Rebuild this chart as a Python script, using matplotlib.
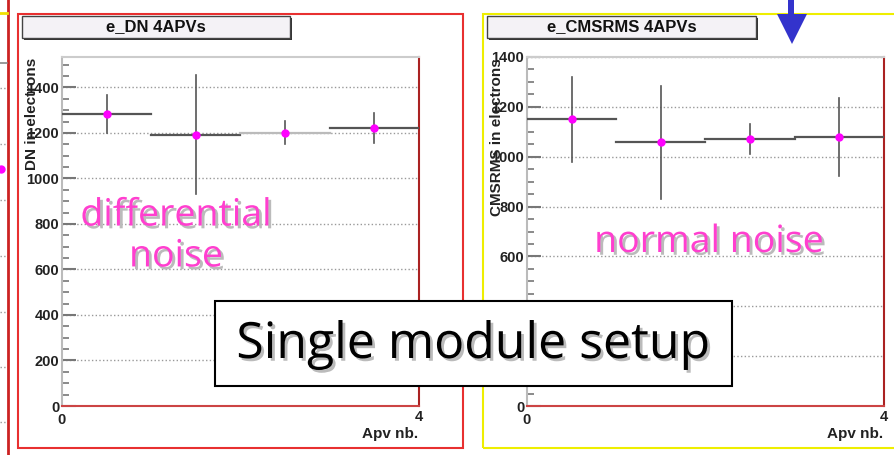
import numpy as np
import matplotlib
matplotlib.use('Agg')
from matplotlib import pyplot as plt
from matplotlib.patches import Rectangle, Polygon
from matplotlib.lines import Line2D
import matplotlib.patheffects as pe

# data
apv = [0.5, 1.5, 2.5, 3.5]
dn_vals = [1283, 1193, 1201, 1222]
dn_err = [82, 262, 51, 66]
cms_vals = [1150, 1058, 1071, 1080]
cms_err = [170, 227, 60, 157]
y_ticks = [0, 200, 400, 600, 800, 1000, 1200, 1400]

W, H = 895, 455
fig = plt.figure(figsize=(W / 100, H / 100), dpi=100)


def fx(px):
    return px / W


def fy(py):
    return 1 - py / H


def frame(x0, y0, x1, y1, **kw):
    r = Rectangle((fx(x0), fy(y1)), fx(x1) - fx(x0), fy(y0) - fy(y1),
                  transform=fig.transFigure, **kw)
    fig.patches.append(r)
    return r


def fline(xs, ys, **kw):
    fig.lines.append(Line2D([fx(x) for x in xs], [fy(y) for y in ys],
                            transform=fig.transFigure, **kw))


bold = dict(family='Liberation Sans', weight='bold')


def panel(x0, x1, ymax, vals, errs, title, ylabel, tbox, ylab_x, light_bin=None):
    ax = fig.add_axes([fx(x0), fy(406), fx(x1) - fx(x0), fy(57) - fy(406)])
    ax.set_xlim(0, 4)
    ax.set_ylim(0, ymax)
    for i, (c, v, e) in enumerate(zip(apv, vals, errs)):
        hcol = '#bbbbbb' if i == light_bin else '#555555'
        ax.plot([c - 0.5, c + 0.5], [v, v], color=hcol, lw=1.6, zorder=3)
        ax.plot([c, c], [v - e, v + e], color='#555555', lw=1.2, zorder=3)
    ax.plot(apv, vals, 'o', color='#ff00ff', ms=5, zorder=4)
    ax.set_yticks(y_ticks)
    ax.set_yticks(np.arange(0, ymax, 50), minor=True)
    ax.set_yticklabels([str(t) for t in y_ticks], fontsize=10.5, color='#222222', **bold)
    ax.tick_params(axis='y', which='major', direction='in', length=10, width=1.5,
                   color='#777777', pad=2)
    ax.tick_params(axis='y', which='minor', direction='in', length=5, width=1.2,
                   color='#777777')
    ax.set_xticks([])
    ax.grid(axis='y', which='major', ls=':', color='#999999', lw=1)
    ax.spines['left'].set_color('#bbbbbb')
    ax.spines['top'].set_color('#cccccc')
    ax.spines['right'].set_color('#aa2222')
    ax.spines['bottom'].set_color('#cc4444')
    for s in ax.spines.values():
        s.set_linewidth(1.5)
    fig.text(fx(x0), fy(420), '0', ha='center', va='center', fontsize=10.5, color='#222222', **bold)
    fig.text(fx(x1), fy(417), '4', ha='center', va='center', fontsize=10.5, color='#222222', **bold)
    fig.text(fx(x1 - 1), fy(434), 'Apv nb.', ha='right', va='center', fontsize=11,
             color='#222222', **bold)
    fig.text(fx(ylab_x), fy(58), ylabel, rotation=90, ha='center', va='top',
             fontsize=11, color='#222222', **bold)
    bx0, bx1 = tbox
    frame(bx0 + 2, 18, bx1 + 2, 40, facecolor='#333333', edgecolor='none', zorder=5)
    frame(bx0, 16, bx1, 38, facecolor='#f4f2f6', edgecolor='#444444', lw=1, zorder=6)
    fig.text(fx((bx0 + bx1) / 2), fy(27), title, ha='center', va='center',
             fontsize=12, color='#111111', zorder=7, **bold)
    return ax


# far left remnants of a previous pad
fline([8, 8], [0, 455], color='#cc2222', lw=2)
fline([0, 7], [13, 13], color='#f0e000', lw=2)
fline([0, 7], [63, 63], color='#888888', lw=1.2)
for gy in [88, 144, 200, 256, 312, 367, 422]:
    fline([0, 6], [gy, gy], color='#999999', lw=1, ls=':')
fig.lines.append(Line2D([0.001], [fy(169)], marker='o', color='#ff00ff', ms=5,
                        transform=fig.transFigure))

# pad frames
frame(18, 14, 463, 448, facecolor='none', edgecolor='#e83030', lw=1.5)
frame(483, 14, 905, 448, facecolor='none', edgecolor='#eeee00', lw=1.5)

ax1 = panel(62, 419, 1534, dn_vals, dn_err, 'e_DN 4APVs', 'DN in electrons',
            (22, 290), 32, light_bin=2)
ax2 = panel(527, 884, 1386, cms_vals, cms_err, 'e_CMSRMS 4APVs', 'CMSRMS in electrons',
            (487, 756), 497)

shadow = [pe.withSimplePatchShadow(offset=(2, -2), shadow_rgbFace='#bbbbbb', alpha=1)]
fig.text(fx(176), fy(236), 'differential\nnoise', ha='center', va='center',
         fontsize=27, color='#ff3fcf', family='Open Sans', linespacing=1.1,
         path_effects=shadow, zorder=8)
fig.text(fx(709), fy(242), 'normal noise', ha='center', va='center',
         fontsize=27, color='#ff3fcf', family='Open Sans', path_effects=shadow, zorder=8)

# slide box
frame(215, 301, 732, 386, facecolor='white', edgecolor='black', lw=1.5, zorder=9)
fig.text(fx(473), fy(345), 'Single module setup', ha='center', va='center',
         fontsize=36, color='black', family='Open Sans', path_effects=shadow, zorder=10)

# blue arrow
frame(788, -2, 794, 16, facecolor='#3333cc', edgecolor='none', zorder=10)
fig.patches.append(Polygon([(fx(777), fy(14)), (fx(807), fy(14)), (fx(792), fy(44))],
                           closed=True, transform=fig.transFigure,
                           facecolor='#3333cc', edgecolor='none', zorder=10))

plt.savefig('out.png', dpi=100)
